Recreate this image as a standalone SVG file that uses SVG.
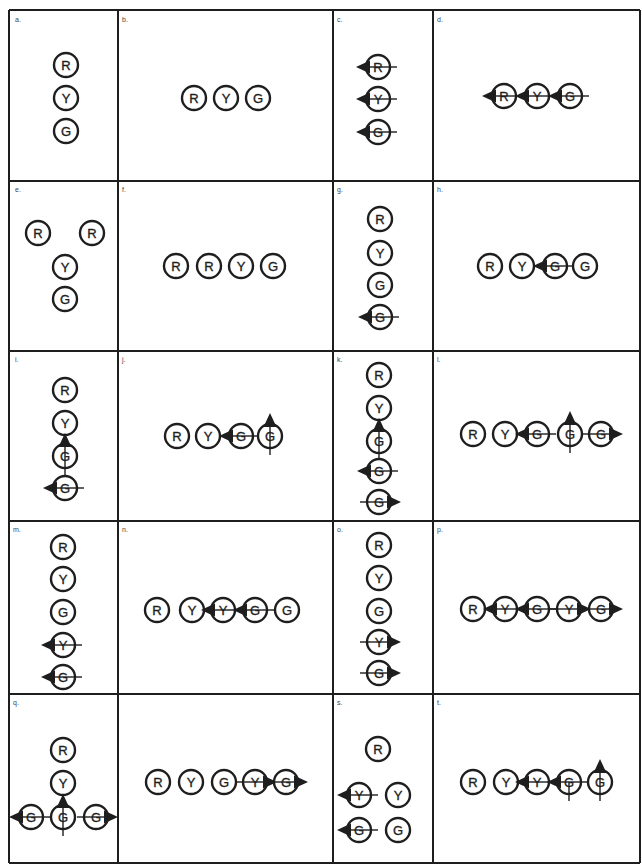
<svg xmlns="http://www.w3.org/2000/svg" xmlns:xlink="http://www.w3.org/1999/xlink" width="642" height="866" viewBox="0 0 642 866">
<style>
.grid line{stroke:#1e1e1e;stroke-width:2}
.lbl{font-family:"Liberation Sans",Arial,sans-serif;font-size:7px;fill:#444}
.s circle{fill:#fff;stroke:#1e1e1e;stroke-width:2.4}
.s text{font-family:"Liberation Sans",Arial,sans-serif;font-size:13px;fill:#1e1e1e;stroke:#1e1e1e;stroke-width:0.35;text-anchor:middle}
.ar line{stroke:#1e1e1e;stroke-width:1.4}
.ar polygon{fill:#1e1e1e}
</style>
<defs>
<g id="aL" class="ar"><line x1="19" y1="0" x2="-10" y2="0"/><polygon points="-22,0 -8,-6.5 -8,6.5"/></g>
<g id="aR" class="ar"><line x1="-19" y1="0" x2="10" y2="0"/><polygon points="22,0 8,-6.5 8,6.5"/></g>
<g id="aU" class="ar"><line x1="0" y1="19" x2="0" y2="-10"/><polygon points="0,-23 -6.5,-9 6.5,-9"/></g>
<g id="stub" class="ar"><line x1="0" y1="0" x2="0" y2="19"/></g>
</defs>
<rect width="642" height="866" fill="#fff"/>
<g id="grid" class="grid">
<line x1="9" y1="10" x2="640" y2="10"/>
<line x1="9" y1="181" x2="640" y2="181"/>
<line x1="9" y1="351" x2="640" y2="351"/>
<line x1="9" y1="521" x2="640" y2="521"/>
<line x1="9" y1="694" x2="640" y2="694"/>
<line x1="9" y1="863" x2="640" y2="863"/>
<line x1="9" y1="10" x2="9" y2="863"/>
<line x1="118" y1="10" x2="118" y2="863"/>
<line x1="333" y1="10" x2="333" y2="863"/>
<line x1="433" y1="10" x2="433" y2="863"/>
<line x1="640" y1="10" x2="640" y2="863"/>
</g>
<g id="labels" class="lbl">
<text x="15" y="22">a.</text><text x="122" y="22">b.</text><text x="337" y="22">c.</text><text x="437" y="22">d.</text>
<text x="15" y="192">e.</text><text x="122" y="192">f.</text><text x="337" y="192">g.</text><text x="437" y="192">h.</text>
<text x="15" y="362">i.</text><text x="122" y="362">j.</text><text x="337" y="362">k.</text><text x="437" y="362">l.</text>
<text x="13" y="532">m.</text><text x="122" y="532">n.</text><text x="337" y="532">o.</text><text x="437" y="532">p.</text>
<text x="13" y="705">q.</text><text x="337" y="705">s.</text><text x="437" y="705">t.</text>
</g>
<g id="connectors"></g>
<g id="panel-a">
<g id="a1" class="s" transform="translate(66,65)"><circle r="12"/><text y="5">R</text></g>
<g id="a2" class="s" transform="translate(66,98)"><circle r="12"/><text y="5">Y</text></g>
<g id="a3" class="s" transform="translate(66,131)"><circle r="12"/><text y="5">G</text></g>
</g>
<g id="panel-b">
<g id="b1" class="s" transform="translate(194,98)"><circle r="12"/><text y="5">R</text></g>
<g id="b2" class="s" transform="translate(226,98)"><circle r="12"/><text y="5">Y</text></g>
<g id="b3" class="s" transform="translate(258,98)"><circle r="12"/><text y="5">G</text></g>
</g>
<g id="panel-c">
<g id="c1" class="s" transform="translate(378,67)"><circle r="12"/><use href="#aL"/><text y="5">R</text></g>
<g id="c2" class="s" transform="translate(378,99)"><circle r="12"/><use href="#aL"/><text y="5">Y</text></g>
<g id="c3" class="s" transform="translate(378,132)"><circle r="12"/><use href="#aL"/><text y="5">G</text></g>
</g>
<g id="panel-d">
<g id="d1" class="s" transform="translate(504,96)"><circle r="12"/><use href="#aL"/><text y="5">R</text></g>
<g id="d2" class="s" transform="translate(537,96)"><circle r="12"/><use href="#aL"/><text y="5">Y</text></g>
<g id="d3" class="s" transform="translate(570,96)"><circle r="12"/><use href="#aL"/><text y="5">G</text></g>
</g>
<g id="panel-e">
<g id="e1" class="s" transform="translate(38,233)"><circle r="12"/><text y="5">R</text></g>
<g id="e2" class="s" transform="translate(92,233)"><circle r="12"/><text y="5">R</text></g>
<g id="e3" class="s" transform="translate(65,267)"><circle r="12"/><text y="5">Y</text></g>
<g id="e4" class="s" transform="translate(65,299)"><circle r="12"/><text y="5">G</text></g>
</g>
<g id="panel-f">
<g id="f1" class="s" transform="translate(176,266)"><circle r="12"/><text y="5">R</text></g>
<g id="f2" class="s" transform="translate(209,266)"><circle r="12"/><text y="5">R</text></g>
<g id="f3" class="s" transform="translate(241,266)"><circle r="12"/><text y="5">Y</text></g>
<g id="f4" class="s" transform="translate(273,266)"><circle r="12"/><text y="5">G</text></g>
</g>
<g id="panel-g">
<g id="g1" class="s" transform="translate(380,219)"><circle r="12"/><text y="5">R</text></g>
<g id="g2" class="s" transform="translate(380,253)"><circle r="12"/><text y="5">Y</text></g>
<g id="g3" class="s" transform="translate(380,285)"><circle r="12"/><text y="5">G</text></g>
<g id="g4" class="s" transform="translate(380,317)"><circle r="12"/><use href="#aL"/><text y="5">G</text></g>
</g>
<g id="panel-h">
<g id="h1" class="s" transform="translate(490,266)"><circle r="12"/><text y="5">R</text></g>
<g id="h2" class="s" transform="translate(522,266)"><circle r="12"/><text y="5">Y</text></g>
<g id="h3" class="s" transform="translate(555,266)"><circle r="12"/><use href="#aL"/><text y="5">G</text></g>
<g id="h4" class="s" transform="translate(585,266)"><circle r="12"/><text y="5">G</text></g>
</g>
<g id="panel-i">
<g id="i1" class="s" transform="translate(65,390)"><circle r="12"/><text y="5">R</text></g>
<g id="i2" class="s" transform="translate(65,423)"><circle r="12"/><text y="5">Y</text></g>
<g id="i4" class="s" transform="translate(65,488)"><circle r="12"/><use href="#aL"/><text y="5">G</text></g>
<g id="i3" class="s" transform="translate(65,456)"><circle r="12"/><use href="#aU"/><text y="5">G</text></g>
</g>
<g id="panel-j">
<g id="j1" class="s" transform="translate(177,436)"><circle r="12"/><text y="5">R</text></g>
<g id="j2" class="s" transform="translate(208,436)"><circle r="12"/><text y="5">Y</text></g>
<g id="j3" class="s" transform="translate(241,436)"><circle r="12"/><use href="#aL"/><text y="5">G</text></g>
<g id="j4" class="s" transform="translate(270,436)"><circle r="12"/><use href="#aU"/><text y="5">G</text></g>
</g>
<g id="panel-k">
<g id="k1" class="s" transform="translate(379,375)"><circle r="12"/><text y="5">R</text></g>
<g id="k2" class="s" transform="translate(379,408)"><circle r="12"/><text y="5">Y</text></g>
<g id="k4" class="s" transform="translate(379,471)"><circle r="12"/><use href="#aL"/><text y="5">G</text></g>
<g id="k3" class="s" transform="translate(379,441)"><circle r="12"/><use href="#aU"/><text y="5">G</text></g>
<g id="k5" class="s" transform="translate(379,502)"><circle r="12"/><use href="#aR"/><text y="5">G</text></g>
</g>
<g id="panel-l">
<g id="l1" class="s" transform="translate(473,434)"><circle r="12"/><text y="5">R</text></g>
<g id="l2" class="s" transform="translate(505,434)"><circle r="12"/><text y="5">Y</text></g>
<g id="l3" class="s" transform="translate(537,434)"><circle r="12"/><use href="#aL"/><text y="5">G</text></g>
<g id="l4" class="s" transform="translate(570,434)"><circle r="12"/><use href="#aU"/><text y="5">G</text></g>
<g id="l5" class="s" transform="translate(601,434)"><circle r="12"/><use href="#aR"/><text y="5">G</text></g>
</g>
<g id="panel-m">
<g id="m1" class="s" transform="translate(63,547)"><circle r="12"/><text y="5">R</text></g>
<g id="m2" class="s" transform="translate(63,579)"><circle r="12"/><text y="5">Y</text></g>
<g id="m3" class="s" transform="translate(63,612)"><circle r="12"/><text y="5">G</text></g>
<g id="m4" class="s" transform="translate(63,645)"><circle r="12"/><use href="#aL"/><text y="5">Y</text></g>
<g id="m5" class="s" transform="translate(63,677)"><circle r="12"/><use href="#aL"/><text y="5">G</text></g>
</g>
<g id="panel-n">
<g id="n1" class="s" transform="translate(157,610)"><circle r="12"/><text y="5">R</text></g>
<g id="n2" class="s" transform="translate(192,610)"><circle r="12"/><text y="5">Y</text></g>
<g id="n3" class="s" transform="translate(223,610)"><circle r="12"/><use href="#aL"/><text y="5">Y</text></g>
<g id="n4" class="s" transform="translate(255,610)"><circle r="12"/><use href="#aL"/><text y="5">G</text></g>
<g id="n5" class="s" transform="translate(287,610)"><circle r="12"/><text y="5">G</text></g>
</g>
<g id="panel-o">
<g id="o1" class="s" transform="translate(379,545)"><circle r="12"/><text y="5">R</text></g>
<g id="o2" class="s" transform="translate(379,578)"><circle r="12"/><text y="5">Y</text></g>
<g id="o3" class="s" transform="translate(379,611)"><circle r="12"/><text y="5">G</text></g>
<g id="o4" class="s" transform="translate(379,642)"><circle r="12"/><use href="#aR"/><text y="5">Y</text></g>
<g id="o5" class="s" transform="translate(379,673)"><circle r="12"/><use href="#aR"/><text y="5">G</text></g>
</g>
<g id="panel-p">
<g id="p1" class="s" transform="translate(473,609)"><circle r="12"/><text y="5">R</text></g>
<g id="p2" class="s" transform="translate(505,609)"><circle r="12"/><use href="#aL"/><text y="5">Y</text></g>
<g id="p3" class="s" transform="translate(537,609)"><circle r="12"/><use href="#aL"/><text y="5">G</text></g>
<g id="p4" class="s" transform="translate(569,609)"><circle r="12"/><use href="#aR"/><text y="5">Y</text></g>
<g id="p5" class="s" transform="translate(601,609)"><circle r="12"/><use href="#aR"/><text y="5">G</text></g>
</g>
<g id="panel-q">
<g id="q1" class="s" transform="translate(63,750)"><circle r="12"/><text y="5">R</text></g>
<g id="q2" class="s" transform="translate(63,783)"><circle r="12"/><text y="5">Y</text></g>
<g id="q3" class="s" transform="translate(63,817)"><circle r="12"/><use href="#aU"/><text y="5">G</text></g>
<g id="q4" class="s" transform="translate(31,817)"><circle r="12"/><use href="#aL"/><text y="5">G</text></g>
<g id="q5" class="s" transform="translate(96,817)"><circle r="12"/><use href="#aR"/><text y="5">G</text></g>
</g>
<g id="panel-r">
<g id="r1" class="s" transform="translate(158,782)"><circle r="12"/><text y="5">R</text></g>
<g id="r2" class="s" transform="translate(191,782)"><circle r="12"/><text y="5">Y</text></g>
<g id="r3" class="s" transform="translate(224,782)"><circle r="12"/><text y="5">G</text></g>
<g id="r4" class="s" transform="translate(255,782)"><circle r="12"/><use href="#aR"/><text y="5">Y</text></g>
<g id="r5" class="s" transform="translate(286,782)"><circle r="12"/><use href="#aR"/><text y="5">G</text></g>
</g>
<g id="panel-s">
<g id="s1" class="s" transform="translate(378,749)"><circle r="12"/><text y="5">R</text></g>
<g id="s2" class="s" transform="translate(359,795)"><circle r="12"/><use href="#aL"/><text y="5">Y</text></g>
<g id="s3" class="s" transform="translate(398,795)"><circle r="12"/><text y="5">Y</text></g>
<g id="s4" class="s" transform="translate(359,830)"><circle r="12"/><use href="#aL"/><text y="5">G</text></g>
<g id="s5" class="s" transform="translate(398,830)"><circle r="12"/><text y="5">G</text></g>
</g>
<g id="panel-t">
<g id="t1" class="s" transform="translate(473,782)"><circle r="12"/><text y="5">R</text></g>
<g id="t2" class="s" transform="translate(506,782)"><circle r="12"/><text y="5">Y</text></g>
<g id="t3" class="s" transform="translate(537,782)"><circle r="12"/><use href="#aL"/><text y="5">Y</text></g>
<g id="t4" class="s" transform="translate(569,782)"><circle r="12"/><use href="#aL"/><use href="#stub"/><text y="5">G</text></g>
<g id="t5" class="s" transform="translate(600,782)"><circle r="12"/><use href="#aU"/><text y="5">G</text></g>
</g>
</svg>
